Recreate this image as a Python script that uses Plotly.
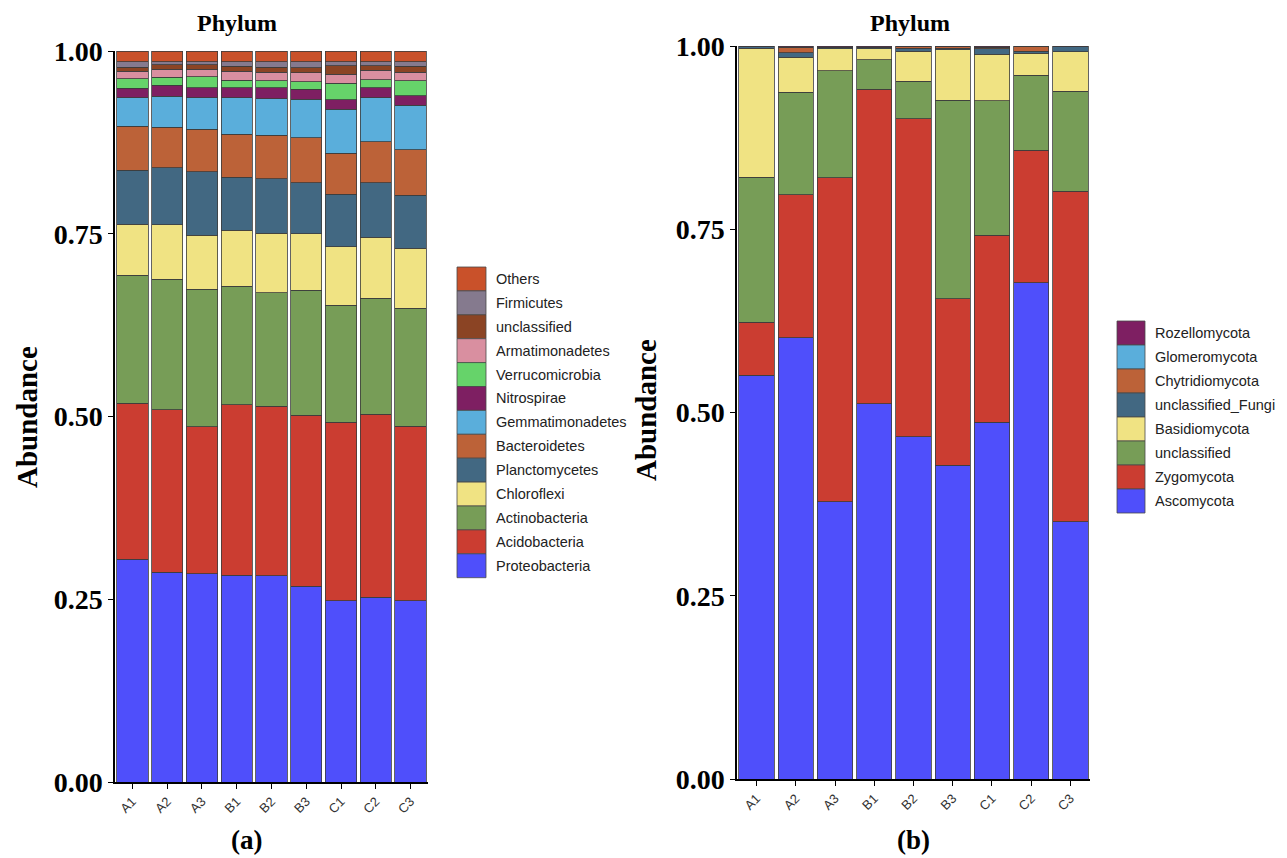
import plotly.graph_objects as go

# ---------------- data ----------------
samples = ["A1", "A2", "A3", "B1", "B2", "B3", "C1", "C2", "C3"]

# (a) bacterial phyla, stacked bottom -> top
bac_names = ["Proteobacteria", "Acidobacteria", "Actinobacteria", "Chloroflexi",
             "Planctomycetes", "Bacteroidetes", "Gemmatimonadetes", "Nitrospirae",
             "Verrucomicrobia", "Armatimonadetes", "unclassified", "Firmicutes", "Others"]
proteobacteria   = [0.305, 0.287, 0.285, 0.283, 0.282, 0.268, 0.248, 0.253, 0.248]
acidobacteria    = [0.213, 0.222, 0.201, 0.233, 0.232, 0.234, 0.244, 0.250, 0.239]
actinobacteria   = [0.175, 0.179, 0.188, 0.162, 0.155, 0.171, 0.160, 0.159, 0.161]
chloroflexi      = [0.070, 0.074, 0.074, 0.077, 0.082, 0.077, 0.080, 0.083, 0.082]
planctomycetes   = [0.074, 0.078, 0.087, 0.072, 0.074, 0.070, 0.072, 0.075, 0.073]
bacteroidetes    = [0.060, 0.056, 0.058, 0.059, 0.060, 0.061, 0.056, 0.056, 0.062]
gemmatimonadetes = [0.039, 0.042, 0.043, 0.050, 0.050, 0.053, 0.060, 0.060, 0.061]
nitrospirae      = [0.013, 0.015, 0.014, 0.014, 0.015, 0.014, 0.013, 0.014, 0.013]
verrucomicrobia  = [0.013, 0.011, 0.015, 0.010, 0.009, 0.010, 0.023, 0.011, 0.020]
armatimonadetes  = [0.010, 0.011, 0.010, 0.012, 0.012, 0.012, 0.012, 0.013, 0.012]
bac_unclassified = [0.006, 0.006, 0.006, 0.007, 0.007, 0.007, 0.012, 0.006, 0.008]
firmicutes       = [0.007, 0.004, 0.004, 0.006, 0.007, 0.008, 0.005, 0.005, 0.006]
bac_others       = [0.015, 0.015, 0.015, 0.015, 0.015, 0.015, 0.015, 0.015, 0.015]
bac_values = [proteobacteria, acidobacteria, actinobacteria, chloroflexi, planctomycetes,
              bacteroidetes, gemmatimonadetes, nitrospirae, verrucomicrobia,
              armatimonadetes, bac_unclassified, firmicutes, bac_others]
bac_colors = ["#4F4FFB", "#CB3D31", "#779D57", "#F0E383", "#426882", "#BC6238",
              "#5AAEDB", "#7E1F62", "#66D36A", "#D98FA0", "#8B4424", "#857A8E", "#C9512A"]

# (b) fungal phyla, stacked bottom -> top
fun_names = ["Ascomycota", "Zygomycota", "unclassified", "Basidiomycota",
             "unclassified_Fungi", "Chytridiomycota", "Glomeromycota", "Rozellomycota"]
ascomycota         = [0.551, 0.602, 0.378, 0.512, 0.467, 0.428, 0.487, 0.677, 0.351]
zygomycota         = [0.072, 0.195, 0.442, 0.429, 0.434, 0.227, 0.255, 0.181, 0.451]
fun_unclassified   = [0.198, 0.140, 0.146, 0.040, 0.051, 0.271, 0.183, 0.102, 0.136]
basidiomycota      = [0.176, 0.048, 0.030, 0.015, 0.041, 0.069, 0.064, 0.030, 0.054]
unclassified_fungi = [0.002, 0.006, 0.002, 0.002, 0.004, 0.002, 0.007, 0.003, 0.007]
chytridiomycota    = [0.000, 0.007, 0.000, 0.000, 0.002, 0.002, 0.002, 0.007, 0.000]
glomeromycota      = [0.000, 0.000, 0.000, 0.000, 0.000, 0.000, 0.000, 0.000, 0.000]
rozellomycota      = [0.001, 0.002, 0.002, 0.002, 0.001, 0.001, 0.002, 0.000, 0.001]
fun_values = [ascomycota, zygomycota, fun_unclassified, basidiomycota,
              unclassified_fungi, chytridiomycota, glomeromycota, rozellomycota]
fun_colors = ["#4F4FFB", "#CB3D31", "#779D57", "#F0E383", "#426882", "#BC6238",
              "#5AAEDB", "#7E1F62"]

y_ticks = [0, 0.25, 0.5, 0.75, 1.0]
y_ticktext = ["0.00", "0.25", "0.50", "0.75", "1.00"]

# ---------------- layout helpers ----------------
W, H = 1287, 858
OFF = 8  # page body offset
def px_x(v): return (v - OFF) / W
def px_y(v): return 1 - (v - OFF) / H

SERIF = "Liberation Serif, Times New Roman, serif"
SANS = "Liberation Sans, Arial, sans-serif"

fig = go.Figure()

for name, vals, col in zip(bac_names, bac_values, bac_colors):
    fig.add_trace(go.Bar(
        x=samples, y=vals, name=name, showlegend=False,
        marker=dict(color=col, line=dict(color="#3c3c3c", width=0.8)),
        xaxis="x", yaxis="y"))

for name, vals, col in zip(fun_names, fun_values, fun_colors):
    fig.add_trace(go.Bar(
        x=samples, y=vals, name=name, showlegend=False,
        marker=dict(color=col, line=dict(color="#3c3c3c", width=0.8)),
        xaxis="x2", yaxis="y2"))

axis_common = dict(showline=True, linecolor="black", linewidth=1.5,
                   ticks="outside", ticklen=5, tickcolor="black", tickwidth=1.2,
                   showgrid=False, zeroline=False, automargin=False)

xfont = dict(family=SANS, size=13, color="#333333")
yfont = dict(family=SERIF, size=28, color="black")
bold_ticks = ["<b>%s</b>" % t for t in y_ticktext]

fig.update_layout(
    width=W, height=H,
    margin=dict(l=0, r=0, t=0, b=0, autoexpand=False),
    paper_bgcolor="white", plot_bgcolor="white",
    barmode="stack", bargap=0.1, showlegend=False,
    xaxis=dict(domain=[px_x(115), px_x(428)], anchor="y", tickangle=-45,
               tickfont=xfont, **axis_common),
    yaxis=dict(domain=[px_y(782), px_y(51)], anchor="x", range=[0, 1.0],
               tickvals=y_ticks, ticktext=bold_ticks, tickfont=yfont, **axis_common),
    xaxis2=dict(domain=[px_x(737), px_x(1090)], anchor="y2", tickangle=-45,
                tickfont=xfont, **axis_common),
    yaxis2=dict(domain=[px_y(779), px_y(46)], anchor="x2", range=[0, 1.0],
                tickvals=y_ticks, ticktext=bold_ticks, tickfont=yfont, **axis_common),
)

# ---- legend keys (ggplot-style stacked swatches), top entry = last stacked series ----
def legend_block(names, colors, x0, y_top, sw_w, item_h, text_x):
    items = list(zip(names, colors))[::-1]
    for k, (name, col) in enumerate(items):
        top = y_top + k * item_h
        fig.add_shape(type="rect", xref="paper", yref="paper",
                      x0=px_x(x0), x1=px_x(x0 + sw_w),
                      y0=px_y(top + item_h), y1=px_y(top),
                      fillcolor=col, line=dict(color="#4a4a4a", width=0.8))
        fig.add_annotation(text=name, xref="paper", yref="paper",
                           x=px_x(text_x), y=px_y(top + item_h / 2),
                           xanchor="left", yanchor="middle", showarrow=False,
                           font=dict(family=SANS, size=14.5, color="#222222"))

legend_block(bac_names, bac_colors, 457, 267, 29, 23.9, 494)
legend_block(fun_names, fun_colors, 1117, 321, 28, 24.0, 1153)

def ann(text, x, y, size, angle=0, yanchor="middle"):
    fig.add_annotation(text=text, x=px_x(x), y=px_y(y), xref="paper", yref="paper",
                       showarrow=False, textangle=angle, xanchor="center", yanchor=yanchor,
                       font=dict(family=SERIF, size=size, color="black"))

ann("<b>Phylum</b>", 237, 8, 24, yanchor="top")
ann("<b>Phylum</b>", 910, 8, 24, yanchor="top")
ann("<b>Abundance</b>", 27, 417, 29, -90)
ann("<b>Abundance</b>", 646, 410, 29, -90)
ann("<b>(a)</b>", 246, 840, 27)
ann("<b>(b)</b>", 913, 840, 27)

fig.write_html("out.html")
